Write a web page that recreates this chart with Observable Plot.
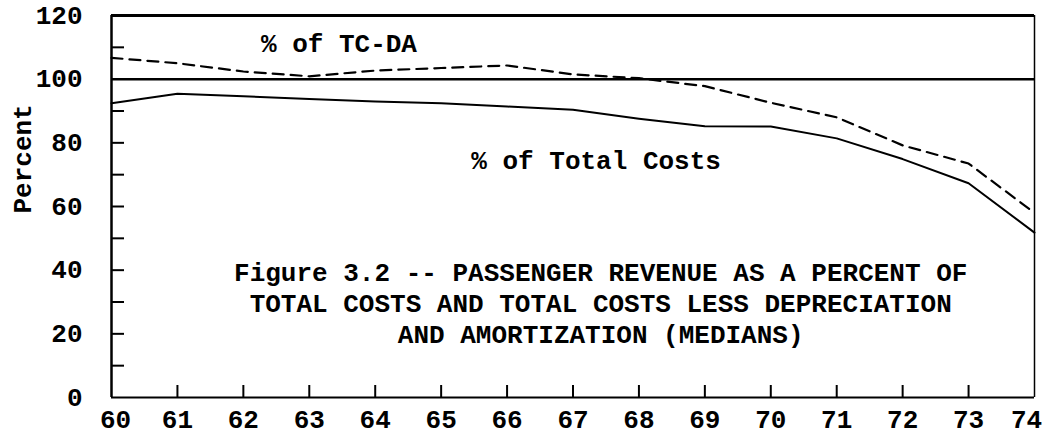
<!DOCTYPE html>
<html>
<head>
<meta charset="utf-8">
<script src="https://cdn.jsdelivr.net/npm/d3@7"></script>
<script src="https://cdn.jsdelivr.net/npm/@observablehq/plot@0.6"></script>
<style>
  html, body { margin: 0; padding: 0; background: #fff; }
</style>
</head>
<body>
<div id="chart"></div>
<script>
// Data
const years = [60, 61, 62, 63, 64, 65, 66, 67, 68, 69, 70, 71, 72, 73, 74];
const pctTotalCosts = [92.4, 95.4, 94.6, 93.8, 93.0, 92.4, 91.4, 90.4, 87.6, 85.2, 85.1, 81.4, 74.9, 67.3, 51.8];
const pctTcDa = [106.7, 105.0, 102.4, 100.9, 102.7, 103.5, 104.3, 101.5, 100.3, 97.8, 92.6, 88.0, 79.2, 73.5, 58.0];
const referenceLevel = [100];
const yLabelTicks = [0, 20, 40, 60, 80, 100, 120];
const yMarkTicks = [10, 20, 30, 40, 50, 60, 70, 80, 90, 110];
const xTicks = years;
const seriesLabels = ["% of TC-DA", "% of Total Costs"];
const yAxisLabel = "Percent";
const caption = "Figure 3.2 -- PASSENGER REVENUE AS A PERCENT OF\nTOTAL COSTS AND TOTAL COSTS LESS DEPRECIATION\nAND AMORTIZATION (MEDIANS)";

const totalRows = years.map((yr, i) => ({year: yr, value: pctTotalCosts[i]}));
const tcdaRows = years.map((yr, i) => ({year: yr, value: pctTcDa[i]}));

const chart = Plot.plot({
  width: 1048,
  height: 436,
  marginLeft: 111,
  marginRight: 14,
  marginTop: 15,
  marginBottom: 39,
  style: {
    fontFamily: "'Liberation Mono', 'DejaVu Sans Mono', monospace",
    fontSize: "26px",
    fontWeight: "bold",
    color: "black",
    background: "white",
    overflow: "visible"
  },
  x: {domain: [60, 74]},
  y: {domain: [0, 120]},
  marks: [
    // axis labels
    Plot.axisY({ticks: yLabelTicks, tickSize: 0, tickPadding: 29, label: null, tickFormat: d => String(d)}),
    Plot.axisY({ticks: yMarkTicks, tickSize: -13, label: null, tickFormat: () => "", strokeWidth: 2}),
    Plot.axisX({ticks: xTicks.slice(0, 1), tickSize: 0, tickPadding: 12, dx: 4, label: null, tickFormat: d => String(d)}),
    Plot.axisX({ticks: xTicks.slice(1, -1), tickSize: 0, tickPadding: 12, label: null, tickFormat: d => String(d)}),
    Plot.axisX({ticks: xTicks.slice(-1), tickSize: 0, tickPadding: 12, dx: -8, label: null, tickFormat: d => String(d)}),
    Plot.axisX({ticks: xTicks.slice(1, -1), tickSize: -12, label: null, tickFormat: () => "", strokeWidth: 2}),
    // frame
    Plot.ruleY([120], {stroke: "black", strokeWidth: 3}),
    Plot.ruleY([0], {stroke: "black", strokeWidth: 2}),
    Plot.ruleX([60], {stroke: "black", strokeWidth: 2.5}),
    Plot.ruleX([74], {stroke: "black", strokeWidth: 1.5}),
    // 100% reference
    Plot.ruleY(referenceLevel, {stroke: "black", strokeWidth: 2.5}),
    // series
    Plot.line(totalRows, {x: "year", y: "value", stroke: "black", strokeWidth: 2}),
    Plot.line(tcdaRows, {x: "year", y: "value", stroke: "black", strokeWidth: 2.2, strokeDasharray: "11,7"}),
    // annotations
    Plot.text([seriesLabels[0]], {x: 63.45, y: 111.2, text: d => d, textAnchor: "middle"}),
    Plot.text([seriesLabels[1]], {x: 67.35, y: 74.5, text: d => d, textAnchor: "middle"}),
    Plot.text([caption], {x: 67.42, y: 30.1, text: d => d, textAnchor: "middle", lineHeight: 1.19}),
    Plot.text([yAxisLabel], {frameAnchor: "left", dx: -89, dy: 7, rotate: -90, text: d => d})
  ]
});
document.getElementById("chart").appendChild(chart);
</script>
</body>
</html>
